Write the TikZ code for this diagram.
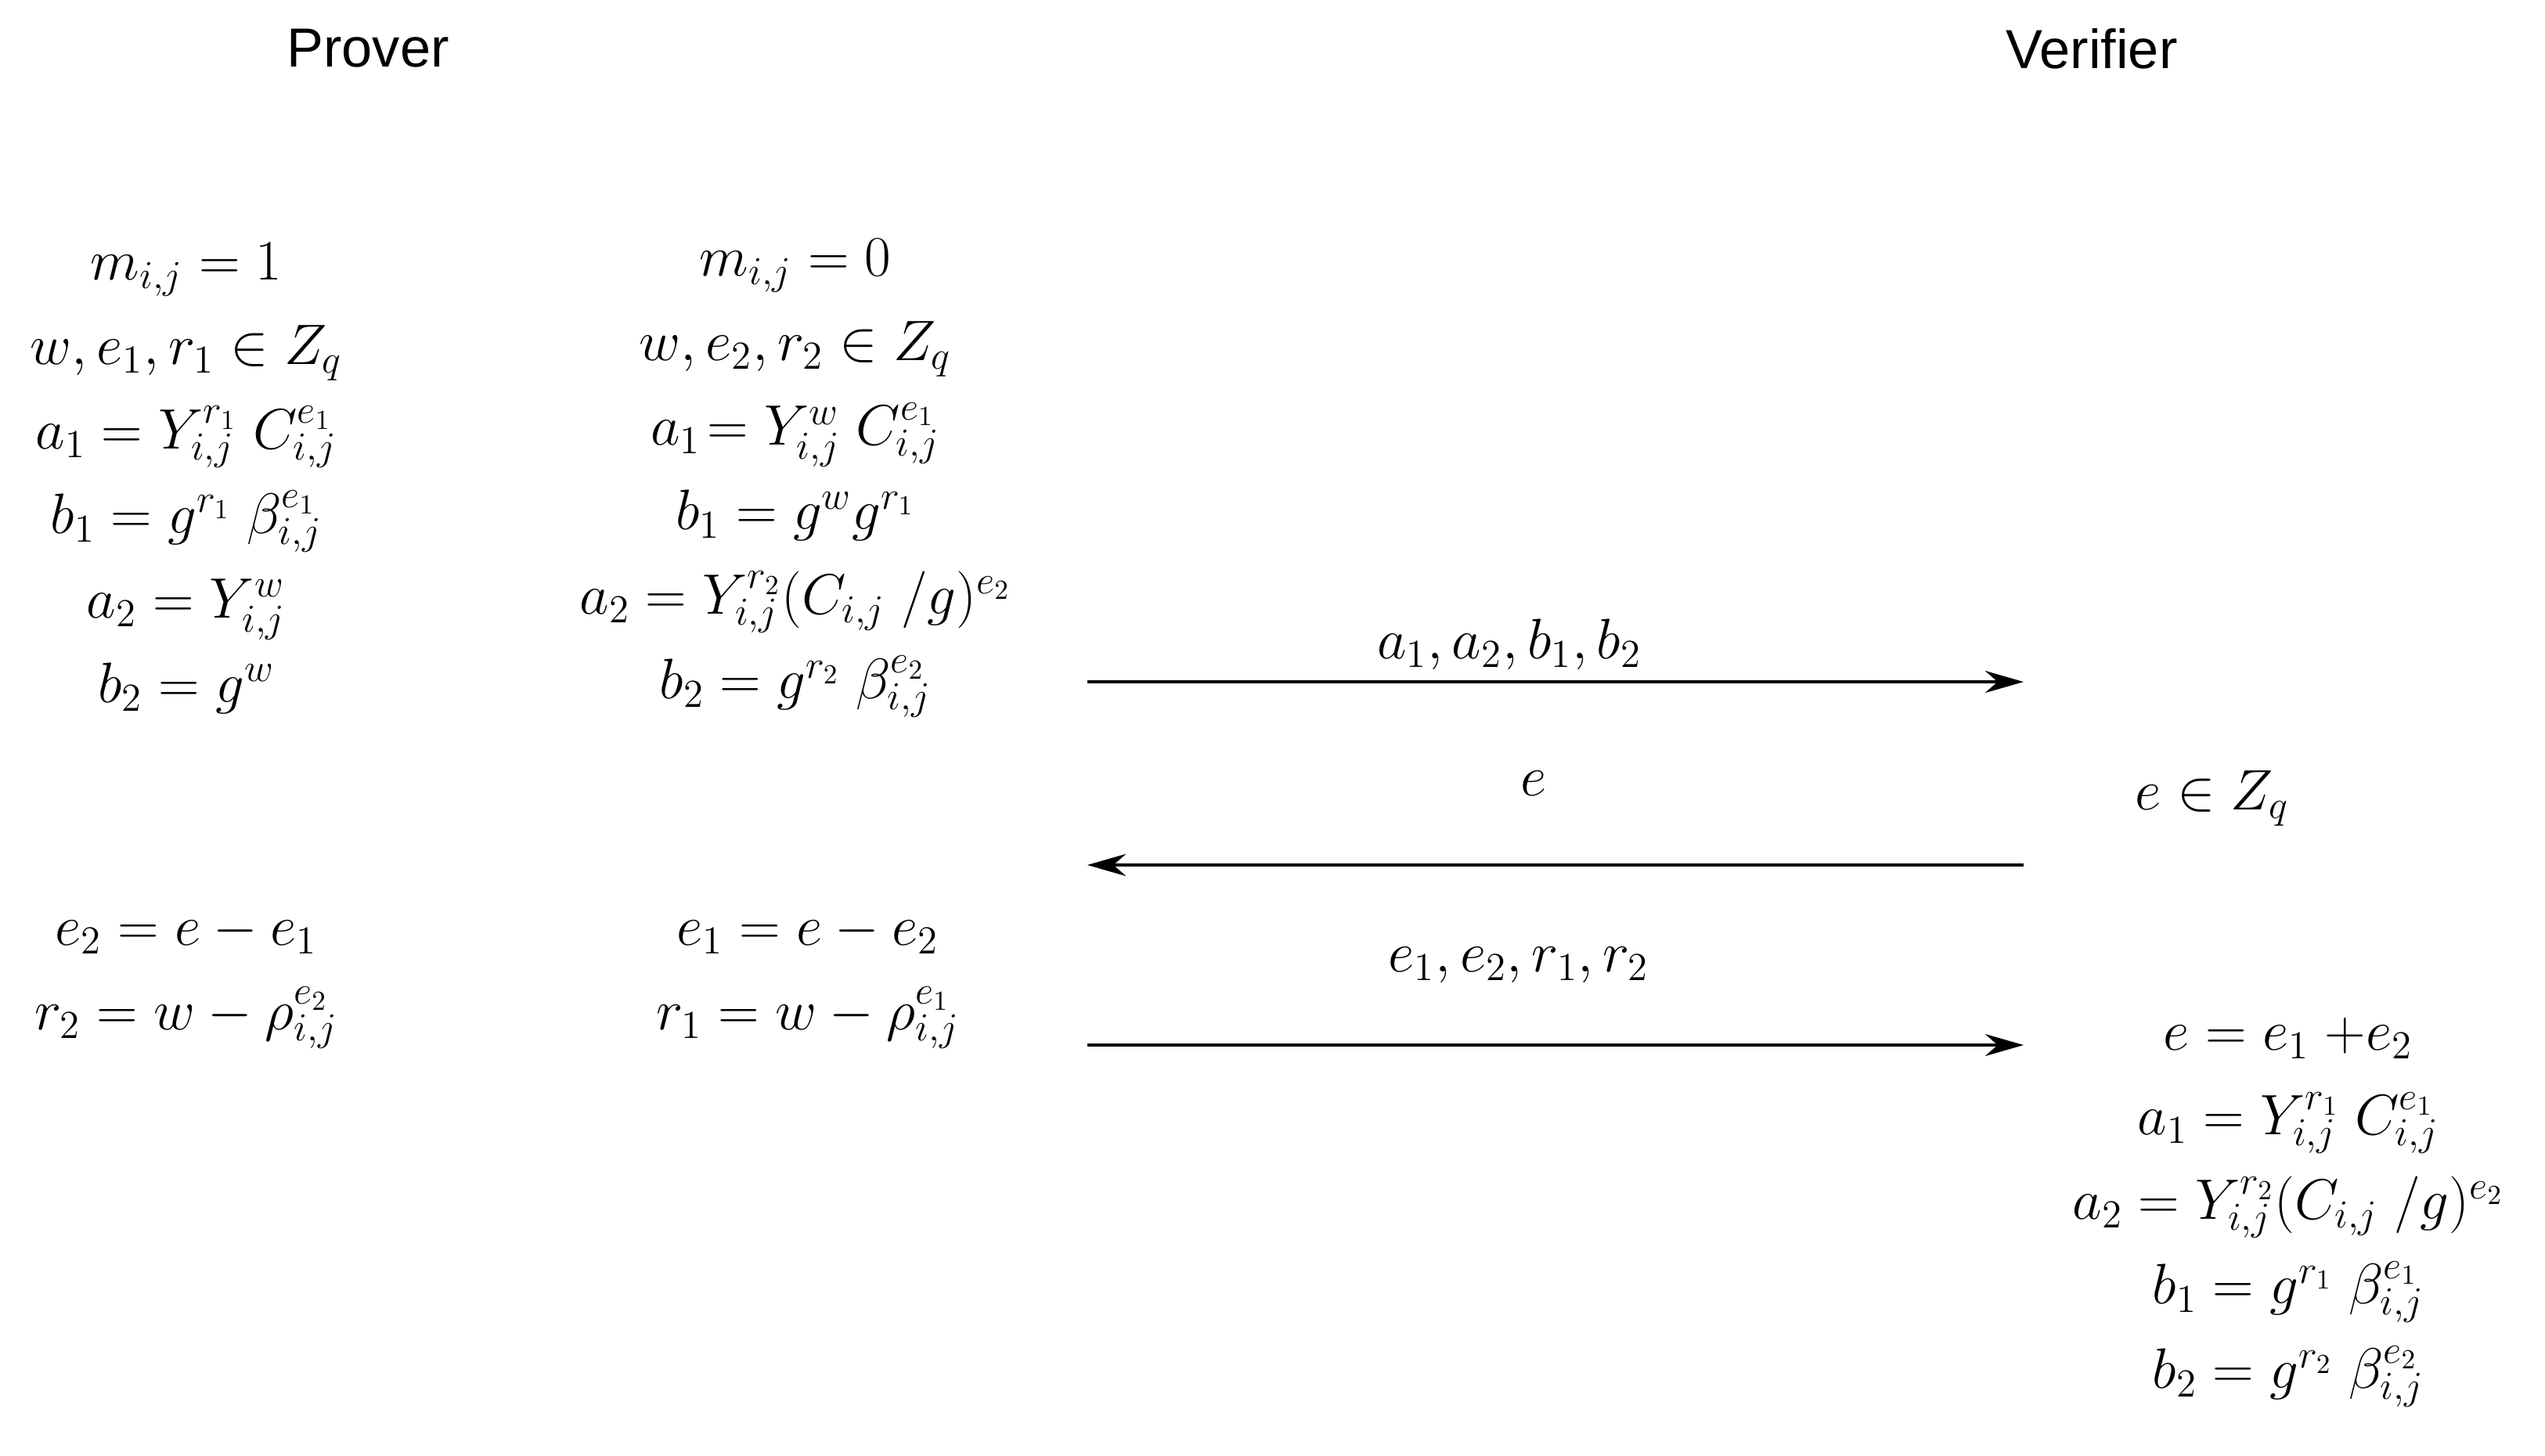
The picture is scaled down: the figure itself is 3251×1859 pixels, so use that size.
\documentclass[tikz,border=0pt]{standalone}
\usepackage{fontspec}
\setsansfont{Liberation Sans}
\usetikzlibrary{arrows.meta}
\begin{document}
\begin{tikzpicture}[x=0.01cm,y=-0.01cm,
  blk/.style={align=center,font=\fontsize{20}{30.7}\selectfont,inner sep=0pt},
  hdr/.style={font=\sffamily\fontsize{20}{24}\selectfont},
  msg/.style={-{Stealth[length=14pt,width=8pt]},line width=1.1pt}]
\useasboundingbox (0,0) rectangle (3251,1859);
\node[hdr] (p) at (470,62) {Prover};
\node[hdr] (v) at (2672,62) {Verifier};
\node[blk] (c1) at (238,611) {$m_{i,j}=1$\\ $w,e_1,r_1\in Z_q$\\ $a_1=Y_{i,j}^{r_1}\;C_{i,j}^{e_1}$\\ $b_1=g^{r_1}\;\beta_{i,j}^{e_1}$\\ $a_2=Y_{i,j}^{w}$\\ $b_2=g^{w}$};
\node[blk] (c2) at (1016,611) {$m_{i,j}=0$\\ $w,e_2,r_2\in Z_q$\\ $a_1\!=Y_{i,j}^{w}\;C_{i,j}^{e_1}$\\ $b_1=g^{w}g^{r_1}$\\ $a_2=Y_{i,j}^{r_2}(C_{i,j}\;/g)^{e_2}$\\ $b_2=g^{r_2}\;\beta_{i,j}^{e_2}$};
\node[blk] (d1) at (238,1252) {$e_2=e-e_1$\\ $r_2=w-\rho_{i,j}^{e_2}$};
\node[blk] (d2) at (1032,1252) {$e_1=e-e_2$\\ $r_1=w-\rho_{i,j}^{e_1}$};
\node[blk] (ve) at (2826,1020) {$e\in Z_q$};
\node[blk] (vb) at (2923,1549) {$e=e_1\;{+}e_2$\\ $a_1=Y_{i,j}^{r_1}\;C_{i,j}^{e_1}$\\ $a_2=Y_{i,j}^{r_2}(C_{i,j}\;/g)^{e_2}$\\ $b_1=g^{r_1}\;\beta_{i,j}^{e_1}$\\ $b_2=g^{r_2}\;\beta_{i,j}^{e_2}$};
\coordinate (a1s) at (1389,871); \coordinate (a1e) at (2585,871);
\coordinate (a2s) at (2585,1105); \coordinate (a2e) at (1389,1105);
\coordinate (a3s) at (1389,1335); \coordinate (a3e) at (2585,1335);
\draw[msg] (a1s) -- (a1e);
\draw[msg] (a2s) -- (a2e);
\draw[msg] (a3s) -- (a3e);
\node[blk] (l1) at (1928,823) {$a_1,a_2,b_1,b_2$};
\node[blk] (l2) at (1959,1001) {$e$};
\node[blk] (l3) at (1940,1233) {$e_1,e_2,r_1,r_2$};
\end{tikzpicture}
\end{document}
